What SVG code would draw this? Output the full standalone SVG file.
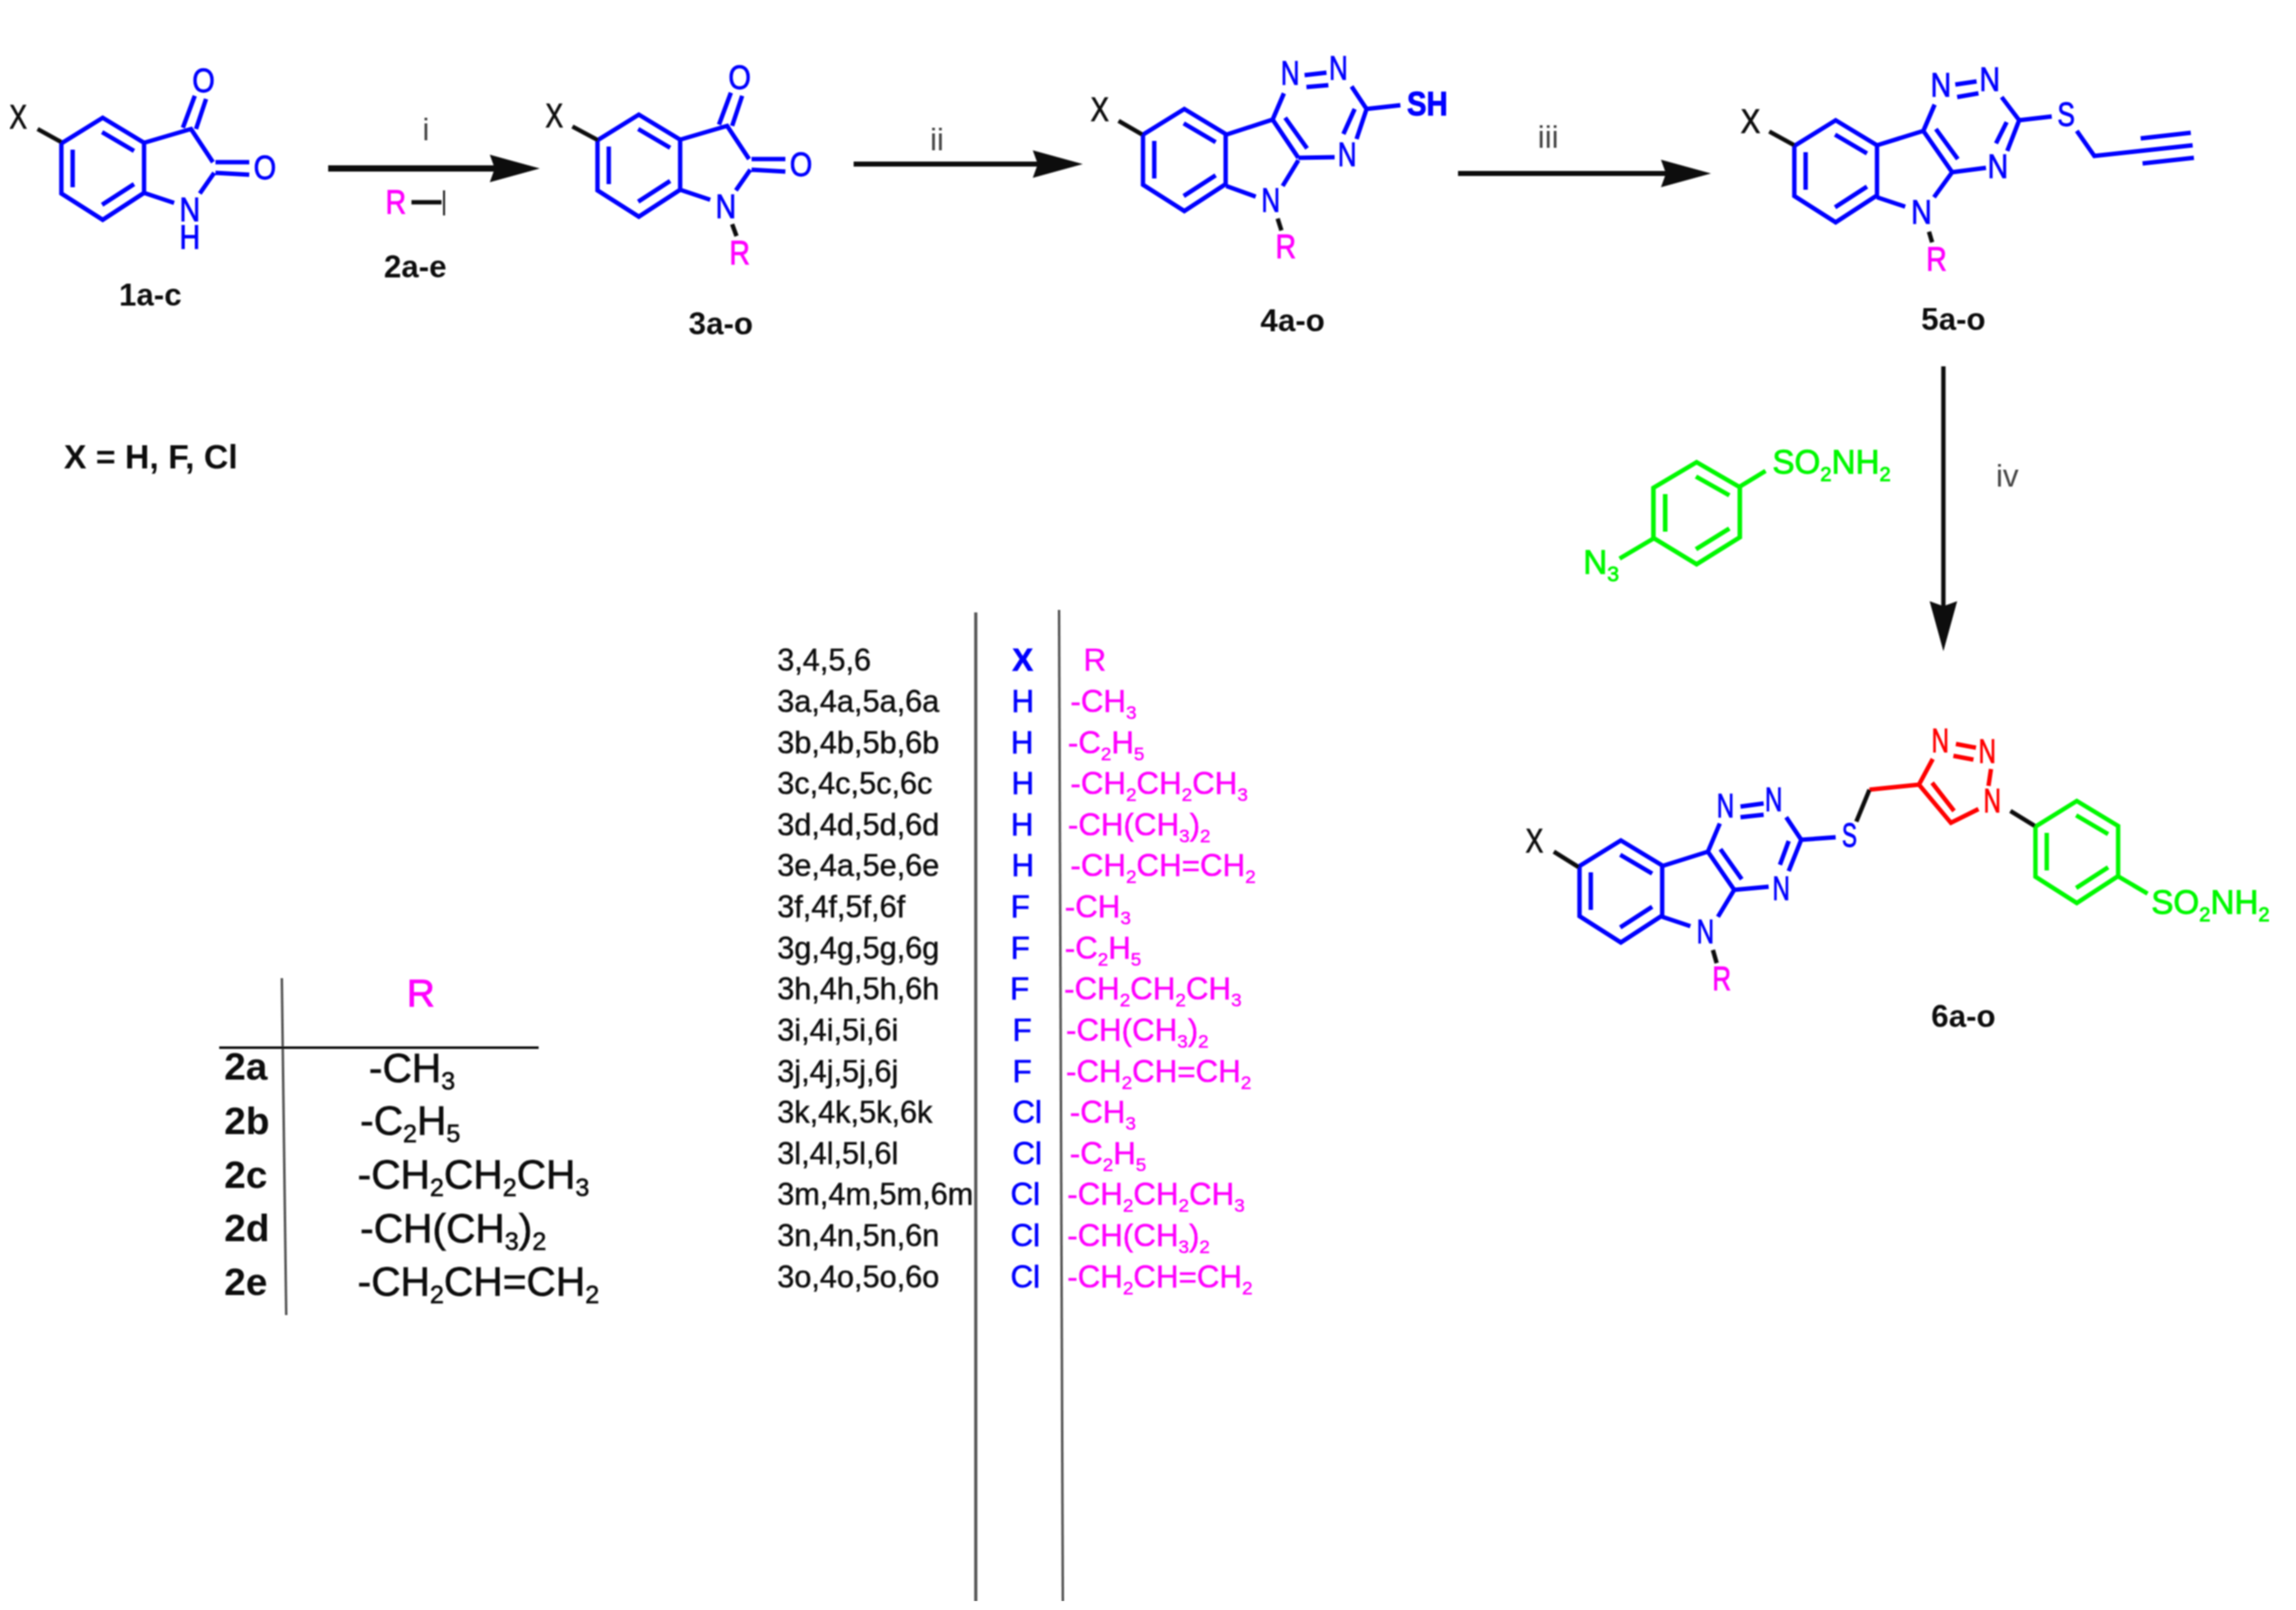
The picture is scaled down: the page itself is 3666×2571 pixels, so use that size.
<svg xmlns="http://www.w3.org/2000/svg" width="3666" height="2571" viewBox="0 0 3666 2571">
<style>
text{font-family:"Liberation Sans",Arial,sans-serif}
.b{fill:none;stroke:#0000ff;stroke-width:7}
.k{fill:none;stroke:#111;stroke-width:7}
.r{fill:none;stroke:#ff0000;stroke-width:7}
.g{fill:none;stroke:#00f800;stroke-width:7}
.at{font-size:54px;text-anchor:middle}
.bl{fill:#0000ff;stroke:#0000ff;stroke-width:1.3}
.mg{fill:#ff00ff;stroke:#ff00ff;stroke-width:1.3}
.rd{fill:#ff0000;stroke:#ff0000;stroke-width:1.3}
.gn{fill:#00f800;stroke:#00f800;stroke-width:1.3}
.bk{fill:#111;stroke:#111;stroke-width:1.3}
.lab{font-size:50px;font-weight:700;text-anchor:middle;fill:#111}
.rg{font-size:50px;text-anchor:middle;fill:#444}
.c1{font-size:50px;fill:#111;stroke:#111;stroke-width:.7}
.cx{font-size:50px;fill:#0000ff;stroke:#0000ff;stroke-width:1;text-anchor:middle}
.cr{font-size:50px;fill:#ff00ff;stroke:#ff00ff;stroke-width:.7}
.t2{font-size:62px;font-weight:700;fill:#111}
.t3{font-size:65px;fill:#111;stroke:#111;stroke-width:1}
.arr{stroke:#111;fill:none}
.rule{stroke:#555;fill:none}
</style>
<defs>
<filter id="soft" x="0" y="0" width="100%" height="100%"><feGaussianBlur stdDeviation="1.2"/></filter>
<marker id="head" markerUnits="userSpaceOnUse" markerWidth="90" markerHeight="50" refX="40" refY="25" orient="auto"><path d="M0,3L80,25L0,47L8,25Z" fill="#111"/></marker>
<path id="ring" d="M0,41L66,0L132,40L132,120L66,163L0,121ZM18,51V111M65,23L116,53M116,106L65,139"/>
<path id="isatin" d="M0,41L66,0L132,40L132,120L66,163L0,121ZM18,51V111M65,23L116,53M116,106L65,139M132,40L207,18L242,71M244,88L221,121M132,120L180,136M194,16L213,-35M215,18L231,-30M246,71H300M246,88L300,91"/>
</defs>
<g filter="url(#soft)">
<g id="connectors">
<line class="arr" x1="524" y1="269" x2="822" y2="269" stroke-width="10" marker-end="url(#head)"/>
<line class="arr" x1="1363" y1="262" x2="1689" y2="262" stroke-width="8" marker-end="url(#head)"/>
<line class="arr" x1="2328" y1="277" x2="2692" y2="277" stroke-width="8" marker-end="url(#head)"/>
<line class="arr" x1="3103" y1="585" x2="3103" y2="1000" stroke-width="7" marker-end="url(#head)"/>
<text class="rg" x="680" y="224">i</text>
<text class="rg" x="1496" y="240">ii</text>
<text class="rg" x="2472" y="236">iii</text>
<text class="rg" x="3205" y="777">iv</text>
</g>
<g id="mol-1">
<use href="#isatin" class="b" x="98" y="188"/>
<path class="k" d="M60,206L98,227"/>
<text class="at bk" x="29" y="205" textLength="28" lengthAdjust="spacingAndGlyphs">X</text>
<text class="at bl" x="325" y="147" textLength="36" lengthAdjust="spacingAndGlyphs">O</text>
<text class="at bl" x="423" y="286" textLength="36" lengthAdjust="spacingAndGlyphs">O</text>
<text class="at bl" transform="translate(303,0) scale(.85,1)"><tspan x="0" y="353">N</tspan><tspan x="0" y="397">H</tspan></text>
<text class="lab" x="240" y="488">1a-c</text>
</g>
<g id="reagent-2">
<text class="at mg" x="632" y="341" textLength="33" lengthAdjust="spacingAndGlyphs">R</text>
<path class="k" d="M657,323H705"/>
<path d="M709,304V344" stroke="#111" stroke-width="3" fill="none"/>
<text class="lab" x="663" y="443">2a-e</text>
</g>
<g id="mol-3">
<use href="#isatin" class="b" x="954" y="183"/>
<path class="k" d="M914,202L955,224M1169,358L1176,377"/>
<text class="at bk" x="885" y="203" textLength="28" lengthAdjust="spacingAndGlyphs">X</text>
<text class="at bl" x="1181" y="142" textLength="36" lengthAdjust="spacingAndGlyphs">O</text>
<text class="at bl" x="1279" y="281" textLength="36" lengthAdjust="spacingAndGlyphs">O</text>
<text class="at bl" x="1159" y="348" textLength="33" lengthAdjust="spacingAndGlyphs">N</text>
<text class="at mg" x="1181" y="422" textLength="33" lengthAdjust="spacingAndGlyphs">R</text>
<text class="lab" x="1151" y="534">3a-o</text>
</g>
<g id="mol-4">
<use href="#ring" class="b" x="1825" y="174"/>
<path class="b" d="M1958,215L2032,191L2073,252M2052,188L2087,237M2073,256L2048,297M1958,297L2005,314M2073,252L2131,251M2032,191L2050,149M2083,120L2118,116M2086,139L2121,136M2158,138L2182,174L2166,222M2163,174L2145,214M2182,174L2236,168"/>
<path class="k" d="M1786,193L1824,215M2040,349L2046,368"/>
<text class="at bk" x="1756" y="193" textLength="29" lengthAdjust="spacingAndGlyphs">X</text>
<text class="at bl" x="2060" y="135" textLength="30" lengthAdjust="spacingAndGlyphs">N</text>
<text class="at bl" x="2137" y="127" textLength="30" lengthAdjust="spacingAndGlyphs">N</text>
<text class="at bl" x="2151" y="265" textLength="30" lengthAdjust="spacingAndGlyphs">N</text>
<text class="at bl" x="2029" y="338" textLength="30" lengthAdjust="spacingAndGlyphs">N</text>
<text class="at bl" x="2279" y="184" textLength="65" lengthAdjust="spacingAndGlyphs" font-weight="700">SH</text>
<text class="at mg" x="2053" y="412" textLength="33" lengthAdjust="spacingAndGlyphs">R</text>
<text class="lab" x="2064" y="529">4a-o</text>
</g>
<g id="mol-5">
<use href="#ring" class="b" x="2865" y="192"/>
<path class="b" d="M2997,232L3071,209L3117,275M3091,206L3126,254M3117,275L3088,315M2997,315L3042,330M3117,275L3171,268M3071,209L3089,167M3122,135L3156,130M3125,155L3159,149M3196,155L3224,192L3205,241M3204,195L3187,229M3224,192L3276,186M3316,209L3344,249L3501,232M3418,221L3498,212M3421,261L3503,252"/>
<path class="k" d="M2825,210L2865,232M3080,370L3085,387"/>
<text class="at bk" x="2795" y="212" textLength="31" lengthAdjust="spacingAndGlyphs">X</text>
<text class="at bl" x="3099" y="154" textLength="33" lengthAdjust="spacingAndGlyphs">N</text>
<text class="at bl" x="3177" y="145" textLength="33" lengthAdjust="spacingAndGlyphs">N</text>
<text class="at bl" x="3190" y="284" textLength="33" lengthAdjust="spacingAndGlyphs">N</text>
<text class="at bl" x="3068" y="357" textLength="33" lengthAdjust="spacingAndGlyphs">N</text>
<text class="at bl" x="3299" y="201" textLength="28" lengthAdjust="spacingAndGlyphs">S</text>
<text class="at mg" x="3092" y="432" textLength="33" lengthAdjust="spacingAndGlyphs">R</text>
<text class="lab" x="3119" y="527">5a-o</text>
</g>
<g id="azide">
<use href="#ring" class="g" transform="translate(2640,738) scale(1.045,1)"/>
<path class="g" d="M2819,752L2778,777M2586,892L2640,860"/>
<text class="gn" font-size="53" x="2830" y="756">SO<tspan dy="12" font-size="32">2</tspan><tspan dy="-12">NH</tspan><tspan dy="12" font-size="32">2</tspan></text>
<text class="gn" font-size="53" x="2528" y="916">N<tspan dy="12" font-size="34">3</tspan></text>
</g>
<g id="mol-6">
<use href="#ring" class="b" x="2522" y="1342"/>
<use href="#ring" class="g" x="3250" y="1279"/>
<path class="b" d="M2654,1383L2727,1360L2769,1421M2747,1356L2781,1404M2769,1421L2743,1464M2654,1464L2699,1479M2769,1421L2824,1416M2727,1360L2746,1315M2779,1288L2816,1283M2779,1305L2816,1301M2852,1305L2876,1341L2856,1391M2856,1343L2842,1381M2876,1341L2931,1337"/>
<path class="r" d="M2985,1261L3064,1253L3086,1212M3064,1253L3115,1314L3159,1292M3085,1250L3120,1295M3123,1188L3155,1194M3119,1207L3151,1213M3179,1228L3175,1255"/>
<path class="k" d="M2481,1360L2521,1385M2735,1517L2741,1538M2964,1312L2985,1261M3210,1295L3249,1319"/>
<path class="g" d="M3383,1400L3429,1427"/>
<text class="at bk" x="2450" y="1361" textLength="28" lengthAdjust="spacingAndGlyphs">X</text>
<text class="at bl" x="2755" y="1305" textLength="28" lengthAdjust="spacingAndGlyphs">N</text>
<text class="at bl" x="2832" y="1295" textLength="28" lengthAdjust="spacingAndGlyphs">N</text>
<text class="at bl" x="2844" y="1437" textLength="28" lengthAdjust="spacingAndGlyphs">N</text>
<text class="at bl" x="2723" y="1506" textLength="28" lengthAdjust="spacingAndGlyphs">N</text>
<text class="at bl" x="2953" y="1352" textLength="24" lengthAdjust="spacingAndGlyphs">S</text>
<text class="at mg" x="2749" y="1581" textLength="30" lengthAdjust="spacingAndGlyphs">R</text>
<text class="at rd" x="3098" y="1201" textLength="28" lengthAdjust="spacingAndGlyphs">N</text>
<text class="at rd" x="3173" y="1218" textLength="28" lengthAdjust="spacingAndGlyphs">N</text>
<text class="at rd" x="3181" y="1297" textLength="28" lengthAdjust="spacingAndGlyphs">N</text>
<text class="gn" font-size="53" x="3435" y="1459">SO<tspan dy="12" font-size="32">2</tspan><tspan dy="-12">NH</tspan><tspan dy="12" font-size="32">2</tspan></text>
<text class="lab" x="3135" y="1640">6a-o</text>
</g>
<g id="x-note"><text x="102" y="748" font-size="54" font-weight="700" fill="#111">X = H, F, Cl</text></g>
<g id="table-R">
<path class="rule" stroke-width="4" d="M450,1562L457,2100"/>
<path d="M350,1673H860" stroke="#111" stroke-width="4" fill="none"/>
<text class="mg" font-size="62" x="672" y="1607" text-anchor="middle">R</text>
<text class="t2" x="358" y="1724">2a</text>
<text class="t2" x="358" y="1811">2b</text>
<text class="t2" x="358" y="1897">2c</text>
<text class="t2" x="358" y="1982">2d</text>
<text class="t2" x="358" y="2068">2e</text>
<text class="t3" x="589" y="1728">-CH<tspan dy="12" font-size="40">3</tspan></text>
<text class="t3" x="575" y="1812">-C<tspan dy="12" font-size="40">2</tspan><tspan dy="-12">H</tspan><tspan dy="12" font-size="40">5</tspan></text>
<text class="t3" x="571" y="1898">-CH<tspan dy="12" font-size="40">2</tspan><tspan dy="-12">CH</tspan><tspan dy="12" font-size="40">2</tspan><tspan dy="-12">CH</tspan><tspan dy="12" font-size="40">3</tspan></text>
<text class="t3" x="575" y="1984">-CH(CH<tspan dy="12" font-size="40">3</tspan><tspan dy="-12">)</tspan><tspan dy="12" font-size="40">2</tspan></text>
<text class="t3" x="571" y="2069">-CH<tspan dy="12" font-size="40">2</tspan><tspan dy="-12">CH=CH</tspan><tspan dy="12" font-size="40">2</tspan></text>
</g>
<g id="table-compounds">
<path class="rule" stroke-width="5" d="M1558,978V2557"/>
<path class="rule" stroke-width="4" d="M1691,974L1697,2557"/>
<g class="c1" transform="translate(1241,0) scale(.98,1)">
<text x="0" y="1071">3,4,5,6</text>
<text x="0" y="1137">3a,4a,5a,6a</text>
<text x="0" y="1203">3b,4b,5b,6b</text>
<text x="0" y="1268">3c,4c,5c,6c</text>
<text x="0" y="1334">3d,4d,5d,6d</text>
<text x="0" y="1399">3e,4a,5e,6e</text>
<text x="0" y="1465">3f,4f,5f,6f</text>
<text x="0" y="1531">3g,4g,5g,6g</text>
<text x="0" y="1596">3h,4h,5h,6h</text>
<text x="0" y="1662">3i,4i,5i,6i</text>
<text x="0" y="1728">3j,4j,5j,6j</text>
<text x="0" y="1793">3k,4k,5k,6k</text>
<text x="0" y="1859">3l,4l,5l,6l</text>
<text x="0" y="1924">3m,4m,5m,6m</text>
<text x="0" y="1990">3n,4n,5n,6n</text>
<text x="0" y="2056">3o,4o,5o,6o</text>
</g>
<g class="cx">
<text x="1633" y="1071" font-weight="700">X</text>
<text x="1633" y="1137">H</text>
<text x="1632" y="1203">H</text>
<text x="1633" y="1268">H</text>
<text x="1632" y="1334">H</text>
<text x="1633" y="1399">H</text>
<text x="1629" y="1465">F</text>
<text x="1629" y="1531">F</text>
<text x="1628" y="1596">F</text>
<text x="1632" y="1662">F</text>
<text x="1632" y="1728">F</text>
<text x="1640" y="1793">Cl</text>
<text x="1640" y="1859">Cl</text>
<text x="1637" y="1924">Cl</text>
<text x="1637" y="1990">Cl</text>
<text x="1637" y="2056">Cl</text>
</g>
<g class="cr">
<text x="1748" y="1071" text-anchor="middle">R</text>
<text x="1709" y="1137">-CH<tspan dy="11" font-size="30">3</tspan></text>
<text x="1705" y="1203">-C<tspan dy="11" font-size="30">2</tspan><tspan dy="-11">H</tspan><tspan dy="11" font-size="30">5</tspan></text>
<text x="1709" y="1268">-CH<tspan dy="11" font-size="30">2</tspan><tspan dy="-11">CH</tspan><tspan dy="11" font-size="30">2</tspan><tspan dy="-11">CH</tspan><tspan dy="11" font-size="30">3</tspan></text>
<text x="1705" y="1334">-CH(CH<tspan dy="11" font-size="30">3</tspan><tspan dy="-11">)</tspan><tspan dy="11" font-size="30">2</tspan></text>
<text x="1709" y="1399">-CH<tspan dy="11" font-size="30">2</tspan><tspan dy="-11">CH=CH</tspan><tspan dy="11" font-size="30">2</tspan></text>
<text x="1700" y="1465">-CH<tspan dy="11" font-size="30">3</tspan></text>
<text x="1700" y="1531">-C<tspan dy="11" font-size="30">2</tspan><tspan dy="-11">H</tspan><tspan dy="11" font-size="30">5</tspan></text>
<text x="1699" y="1596">-CH<tspan dy="11" font-size="30">2</tspan><tspan dy="-11">CH</tspan><tspan dy="11" font-size="30">2</tspan><tspan dy="-11">CH</tspan><tspan dy="11" font-size="30">3</tspan></text>
<text x="1702" y="1662">-CH(CH<tspan dy="11" font-size="30">3</tspan><tspan dy="-11">)</tspan><tspan dy="11" font-size="30">2</tspan></text>
<text x="1702" y="1728">-CH<tspan dy="11" font-size="30">2</tspan><tspan dy="-11">CH=CH</tspan><tspan dy="11" font-size="30">2</tspan></text>
<text x="1708" y="1793">-CH<tspan dy="11" font-size="30">3</tspan></text>
<text x="1708" y="1859">-C<tspan dy="11" font-size="30">2</tspan><tspan dy="-11">H</tspan><tspan dy="11" font-size="30">5</tspan></text>
<text x="1704" y="1924">-CH<tspan dy="11" font-size="30">2</tspan><tspan dy="-11">CH</tspan><tspan dy="11" font-size="30">2</tspan><tspan dy="-11">CH</tspan><tspan dy="11" font-size="30">3</tspan></text>
<text x="1704" y="1990">-CH(CH<tspan dy="11" font-size="30">3</tspan><tspan dy="-11">)</tspan><tspan dy="11" font-size="30">2</tspan></text>
<text x="1704" y="2056">-CH<tspan dy="11" font-size="30">2</tspan><tspan dy="-11">CH=CH</tspan><tspan dy="11" font-size="30">2</tspan></text>
</g>
</g>
</g>
</svg>
